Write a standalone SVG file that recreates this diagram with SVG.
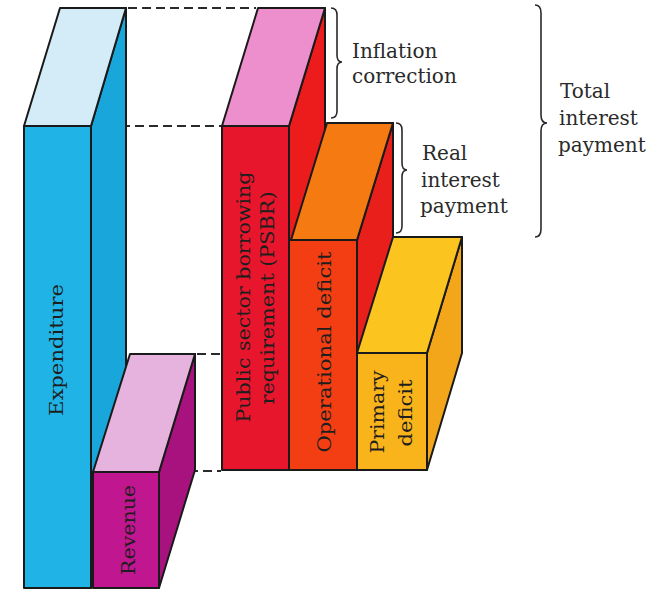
<svg xmlns="http://www.w3.org/2000/svg" width="661" height="590" viewBox="0 0 661 590">
<style>
.f{stroke:#1a1a1a;stroke-width:2;stroke-linejoin:round}
.d{stroke:#2a2a2a;stroke-width:2;stroke-dasharray:9 5;fill:none}
.b{stroke:#2a2a2a;stroke-width:1.6;fill:none}
.t{font-family:"DejaVu Serif","Liberation Serif",serif;font-size:19px;fill:#1e1e1e}
.l{font-family:"DejaVu Serif","Liberation Serif",serif;font-size:20px;fill:#2a2a2a}
</style>
<rect width="661" height="590" fill="#ffffff"/>
<g id="connectors">
<line class="d" x1="128" y1="8" x2="256" y2="8"/>
<line class="d" x1="93" y1="126" x2="221" y2="126"/>
<line class="d" x1="197" y1="354" x2="221" y2="354"/>
<line class="d" x1="161" y1="471" x2="221" y2="471"/>
</g>
<g id="expenditure">
<polygon class="f" fill="#18a6db" points="91,126 126,8 126,470 91,588"/>
<polygon class="f" fill="#d3ecf7" points="24,126 91,126 126,8 60,8"/>
<rect class="f" fill="#20b4e6" x="24" y="126" width="67" height="462"/>
<text class="t" transform="translate(63,350) rotate(-90)" text-anchor="middle" textLength="132" lengthAdjust="spacingAndGlyphs">Expenditure</text>
</g>
<g id="revenue">
<polygon class="f" fill="#a8127f" points="159,472 195,354 195,470 159,588"/>
<polygon class="f" fill="#e6b3de" points="93,472 159,472 195,354 130,354"/>
<rect class="f" fill="#c0168f" x="93" y="472" width="66" height="116"/>
<text class="t" transform="translate(135,530) rotate(-90)" text-anchor="middle" textLength="90" lengthAdjust="spacingAndGlyphs">Revenue</text>
</g>
<g id="psbr">
<polygon class="f" fill="#ec1c1c" points="289,126 325,8 325,353 289,470"/>
<polygon class="f" fill="#ee8fcd" points="222,126 289,126 325,8 258,8"/>
<rect class="f" fill="#e8162c" x="222" y="126" width="67" height="344"/>
<text class="t" transform="translate(250,297) rotate(-90)" text-anchor="middle" textLength="251" lengthAdjust="spacingAndGlyphs">Public sector borrowing</text>
<text class="t" transform="translate(274,298) rotate(-90)" text-anchor="middle" textLength="213" lengthAdjust="spacingAndGlyphs">requirement (PSBR)</text>
</g>
<g id="operational">
<polygon class="f" fill="#e91f1c" points="357,240 393,123 393,353 357,470"/>
<polygon class="f" fill="#f67a12" points="291,240 357,240 393,123 327,123"/>
<rect class="f" fill="#f23e12" x="289" y="240" width="68" height="230"/>
<text class="t" transform="translate(331,352) rotate(-90)" text-anchor="middle" textLength="201" lengthAdjust="spacingAndGlyphs">Operational deficit</text>
</g>
<g id="primary">
<polygon class="f" fill="#f4a61a" points="427,353 462,237 462,353 427,470"/>
<polygon class="f" fill="#fcc41e" points="357,353 427,353 462,237 393,237"/>
<rect class="f" fill="#f8b41a" x="357" y="353" width="70" height="117"/>
<text class="t" transform="translate(384,412) rotate(-90)" text-anchor="middle" textLength="83" lengthAdjust="spacingAndGlyphs">Primary</text>
<text class="t" transform="translate(412,413) rotate(-90)" text-anchor="middle" textLength="67" lengthAdjust="spacingAndGlyphs">deficit</text>
</g>
<g id="inflation-correction">
<path class="b" d="M331,8 Q337,8 337,15 L337,55 Q337,62 342,62 Q337,62 337,69 L337,111 Q337,118 331,118"/>
<text class="l" x="352" y="58">Inflation</text>
<text class="l" x="352" y="83">correction</text>
</g>
<g id="real-interest-payment">
<path class="b" d="M396,123 Q402,123 402,130 L402,163 Q402,170 407,170 Q402,170 402,177 L402,226 Q402,233 396,233"/>
<text class="l" x="422" y="160">Real</text>
<text class="l" x="421" y="187">interest</text>
<text class="l" x="420" y="213">payment</text>
</g>
<g id="total-interest-payment">
<path class="b" d="M535,5 Q541,5 541,13 L541,115 Q541,123 547,123 Q541,123 541,131 L541,229 Q541,237 535,237"/>
<text class="l" x="560" y="98">Total</text>
<text class="l" x="559" y="125">interest</text>
<text class="l" x="558" y="152">payment</text>
</g>
</svg>
